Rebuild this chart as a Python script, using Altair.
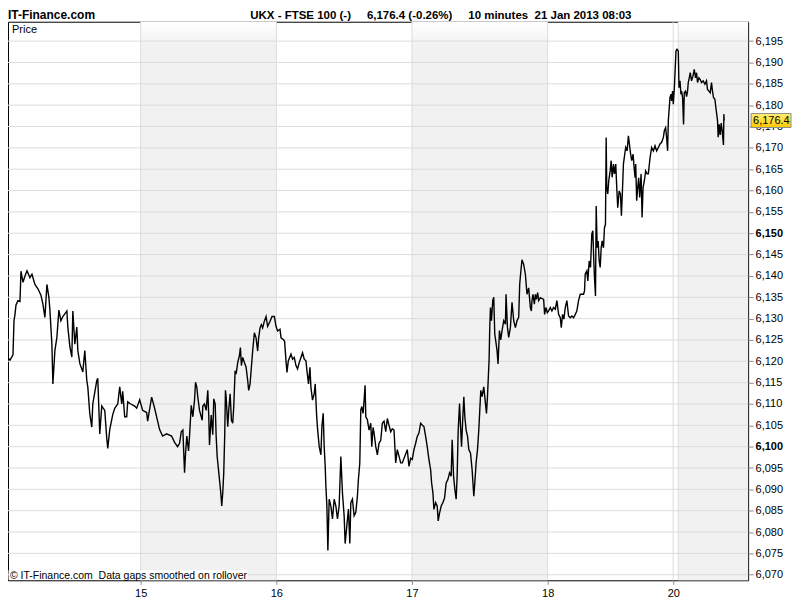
import altair as alt
import pandas as pd

# ---------------- data ----------------
# position in trading days from the first session start (15 = 1, 16 = 2, ...)
DAY_POS = [
    0.0000, 0.0074, 0.0147, 0.0368, 0.0588, 0.0662, 0.0735, 0.0809, 0.0956, 0.1103,
    0.1176, 0.1324, 0.1471, 0.1618, 0.1838, 0.1985, 0.2206, 0.2426, 0.2647, 0.2794,
    0.2941, 0.3088, 0.3235, 0.3309, 0.3456, 0.3529, 0.3676, 0.3824, 0.3971, 0.4118,
    0.4265, 0.4559, 0.4632, 0.4779, 0.4926, 0.5000, 0.5147, 0.5294, 0.5368, 0.5515,
    0.5735, 0.5882, 0.6029, 0.6103, 0.6250, 0.6397, 0.6471, 0.6765, 0.6838, 0.6985,
    0.7132, 0.7353, 0.7500, 0.7574, 0.7721, 0.7941, 0.8088, 0.8309, 0.8456, 0.8603,
    0.8676, 0.8824, 0.8971, 0.9044, 0.9265, 0.9559, 0.9706, 0.9926, 1.0147, 1.0441,
    1.0515, 1.0809, 1.1029, 1.1250, 1.1397, 1.1618, 1.1912, 1.2279, 1.2500, 1.2721,
    1.2868, 1.2993, 1.3110, 1.3235, 1.3309, 1.3404, 1.3529, 1.3603, 1.3728, 1.3846,
    1.3971, 1.4044, 1.4140, 1.4213, 1.4338, 1.4537, 1.4581, 1.4706, 1.4831, 1.4949,
    1.5022, 1.5074, 1.5199, 1.5316, 1.5390, 1.5493, 1.5566, 1.5640, 1.5713, 1.5809,
    1.5904, 1.5978, 1.6051, 1.6125, 1.6199, 1.6250, 1.6301, 1.6419, 1.6493, 1.6596,
    1.6691, 1.6787, 1.6860, 1.6963, 1.7037, 1.7154, 1.7279, 1.7353, 1.7426, 1.7522,
    1.7647, 1.7772, 1.7890, 1.7963, 1.8066, 1.8140, 1.8257, 1.8382, 1.8507, 1.8625,
    1.8699, 1.8801, 1.8897, 1.8993, 1.9118, 1.9243, 1.9360, 1.9537, 1.9684, 1.9853,
    1.9978, 2.0096, 2.0272, 2.0346, 2.0515, 2.0610, 2.0713, 2.0787, 2.0882, 2.1081,
    2.1199, 2.1324, 2.1449, 2.1566, 2.1691, 2.1816, 2.1934, 2.2059, 2.2184, 2.2257,
    2.2375, 2.2478, 2.2551, 2.2669, 2.2794, 2.2868, 2.2963, 2.3037, 2.3162, 2.3287,
    2.3360, 2.3456, 2.3529, 2.3603, 2.3654, 2.3728, 2.3801, 2.3897, 2.4022, 2.4140,
    2.4265, 2.4390, 2.4507, 2.4632, 2.4757, 2.4875, 2.5000, 2.5074, 2.5199, 2.5316,
    2.5419, 2.5493, 2.5610, 2.5735, 2.5860, 2.5978, 2.6051, 2.6154, 2.6228, 2.6301,
    2.6397, 2.6471, 2.6544, 2.6596, 2.6713, 2.6838, 2.6963, 2.7037, 2.7132, 2.7206,
    2.7331, 2.7449, 2.7574, 2.7699, 2.7816, 2.7941, 2.8066, 2.8184, 2.8309, 2.8434,
    2.8551, 2.8676, 2.8801, 2.8919, 2.9044, 2.9169, 2.9287, 2.9654, 2.9779, 2.9904,
    3.0022, 3.0147, 3.0272, 3.0390, 3.0515, 3.0640, 3.0757, 3.0882, 3.1007, 3.1125,
    3.1250, 3.1375, 3.1449, 3.1544, 3.1618, 3.1743, 3.1860, 3.1934, 3.2037, 3.2154,
    3.2279, 3.2404, 3.2522, 3.2647, 3.2772, 3.2890, 3.2963, 3.3066, 3.3162, 3.3257,
    3.3331, 3.3404, 3.3507, 3.3581, 3.3654, 3.3750, 3.3824, 3.3897, 3.3993, 3.4096,
    3.4191, 3.4316, 3.4434, 3.4559, 3.4632, 3.4728, 3.4831, 3.4926, 3.5000, 3.5074,
    3.5169, 3.5294, 3.5419, 3.5493, 3.5566, 3.5640, 3.5684, 3.5735, 3.5787, 3.5860,
    3.5956, 3.6029, 3.6103, 3.6176, 3.6272, 3.6346, 3.6449, 3.6544, 3.6640, 3.6765,
    3.6890, 3.6934, 3.7037, 3.7132, 3.7257, 3.7375, 3.7500, 3.7625, 3.7743, 3.7868,
    3.7941, 3.8015, 3.8110, 3.8235, 3.8360, 3.8478, 3.8603, 3.8728, 3.8801, 3.8846,
    3.8919, 3.9022, 3.9096, 3.9169, 3.9265, 3.9338, 3.9463, 3.9706, 3.9779, 3.9875,
    3.9978, 4.0074, 4.0199, 4.0316, 4.0441, 4.0566, 4.0684, 4.0809, 4.0934, 4.1007,
    4.1103, 4.1199, 4.1301, 4.1419, 4.1544, 4.1669, 4.1787, 4.1912, 4.2037, 4.2154,
    4.2279, 4.2404, 4.2522, 4.2647, 4.2721, 4.2772, 4.2890, 4.2963, 4.3066, 4.3162,
    4.3257, 4.3331, 4.3404, 4.3456, 4.3529, 4.3581, 4.3654, 4.3728, 4.3801, 4.3875,
    4.3949, 4.4022, 4.4118, 4.4191, 4.4265, 4.4316, 4.4360, 4.4434, 4.4507, 4.4610,
    4.4684, 4.4757, 4.4853, 4.4926, 4.5022, 4.5096, 4.5169, 4.5272, 4.5368, 4.5441,
    4.5515, 4.5588, 4.5684, 4.5757, 4.5860, 4.5956, 4.6029, 4.6103, 4.6199, 4.6301,
    4.6375, 4.6449, 4.6493, 4.6566, 4.6640, 4.6713, 4.6787, 4.6890, 4.6963, 4.7037,
    4.7132, 4.7228, 4.7331, 4.7426, 4.7551, 4.7669, 4.7794, 4.7919, 4.8037, 4.8162,
    4.8287, 4.8404, 4.8529, 4.8603, 4.8699, 4.8772, 4.8846, 4.8897, 4.8949, 4.9022,
    4.9096, 4.9140, 4.9213, 4.9265, 4.9338, 4.9463, 4.9537, 4.9632, 4.9684, 4.9757,
    4.9831, 4.9875, 4.9949, 5.0022, 5.0074, 5.0169, 5.0243, 5.0316, 5.0368, 5.0441,
    5.0515, 5.0610, 5.0713, 5.0809, 5.0904, 5.0978, 5.1051, 5.1154, 5.1250, 5.1346,
    5.1471, 5.1596, 5.1713, 5.1787, 5.1890, 5.1985, 5.2081, 5.2154, 5.2228, 5.2331,
    5.2404, 5.2522, 5.2574, 5.2647, 5.2721, 5.2794, 5.2868, 5.2963, 5.2993, 5.3015,
]

PRICE = [
    6115.9, 6118.2, 6121.0, 6120.3, 6121.5, 6129.5, 6131.0, 6133.2, 6134.2, 6134.0,
    6141.1, 6138.5, 6140.0, 6141.2, 6139.6, 6140.4, 6138.0, 6137.0, 6135.5, 6133.4,
    6130.3, 6138.0, 6135.0, 6132.0, 6124.0, 6114.7, 6122.5, 6125.6, 6132.0, 6129.5,
    6130.5, 6131.8, 6128.0, 6123.5, 6121.0, 6131.8, 6124.0, 6128.0, 6122.5, 6119.5,
    6117.5, 6122.5, 6115.5, 6114.0, 6107.7, 6104.6, 6110.0, 6115.5, 6116.0, 6103.0,
    6109.5, 6108.5, 6102.0, 6099.6, 6104.0, 6107.5, 6109.0, 6110.0, 6114.0, 6110.0,
    6113.0, 6107.0, 6107.0, 6110.5, 6110.0, 6109.5, 6109.0, 6111.0, 6108.5, 6108.0,
    6106.0, 6111.6, 6109.0, 6106.0, 6104.0, 6102.5, 6103.0, 6102.5, 6101.0, 6100.0,
    6100.8, 6103.5, 6103.9, 6093.9, 6098.5, 6102.5, 6099.0, 6102.5, 6109.7, 6107.0,
    6110.9, 6115.1, 6113.9, 6111.6, 6108.5, 6106.2, 6109.5, 6110.0, 6108.5, 6113.2,
    6107.0, 6100.4, 6107.4, 6102.8, 6111.2, 6110.0, 6102.4, 6097.7, 6095.4, 6092.3,
    6089.2, 6086.1, 6089.2, 6093.9, 6103.1, 6113.2, 6111.6, 6104.7, 6108.5, 6112.4,
    6106.2, 6105.5, 6109.3, 6117.8, 6117.0, 6119.7, 6121.3, 6123.2, 6119.0, 6120.9,
    6119.7, 6118.6, 6115.5, 6113.2, 6114.7, 6117.8, 6122.4, 6126.7, 6125.5, 6122.4,
    6125.5, 6127.8, 6128.6, 6127.8, 6129.4, 6130.5, 6128.2, 6129.4, 6130.5, 6130.5,
    6128.2, 6127.1, 6127.5, 6125.5, 6125.1, 6124.7, 6120.1, 6117.4, 6120.1, 6121.7,
    6120.5, 6120.9, 6119.0, 6118.2, 6119.7, 6120.9, 6122.0, 6120.5, 6120.1, 6117.8,
    6114.7, 6118.6, 6113.9, 6110.9, 6112.4, 6114.7, 6107.8, 6104.3, 6100.0, 6098.1,
    6104.7, 6107.8, 6100.0, 6095.4, 6090.8, 6086.1, 6075.7, 6087.7, 6086.1, 6083.1,
    6087.7, 6086.1, 6083.1, 6086.1, 6097.7, 6089.2, 6083.8, 6077.3, 6081.5, 6085.4,
    6077.3, 6086.9, 6087.7, 6083.8, 6084.6, 6088.4, 6092.3, 6096.2, 6108.6, 6109.4,
    6107.8, 6110.9, 6114.4, 6107.0, 6106.3, 6103.9, 6105.5, 6100.0, 6104.5, 6103.2,
    6100.0, 6098.1, 6100.8, 6101.5, 6105.5, 6106.0, 6103.5, 6106.6, 6105.0, 6103.5,
    6104.2, 6103.9, 6096.2, 6099.3, 6097.8, 6096.2, 6096.2, 6099.3, 6095.4, 6097.3,
    6097.0, 6099.3, 6100.8, 6102.4, 6103.2, 6105.5, 6105.1, 6104.7, 6102.4, 6100.0,
    6097.0, 6094.6, 6091.5, 6089.2, 6085.3, 6086.9, 6086.1, 6082.6, 6084.5, 6086.1,
    6086.9, 6088.0, 6091.5, 6092.3, 6093.9, 6093.1, 6101.6, 6093.1, 6090.0, 6087.7,
    6093.1, 6103.5, 6110.1, 6104.7, 6100.0, 6107.0, 6111.7, 6107.0, 6103.9, 6102.4,
    6099.3, 6098.5, 6094.6, 6088.4, 6091.5, 6096.2, 6099.3, 6103.9, 6108.6, 6113.2,
    6111.7, 6114.0, 6110.1, 6107.8, 6111.7, 6117.1, 6120.2, 6128.0, 6132.6, 6129.5,
    6134.2, 6135.0, 6126.4, 6124.8, 6122.5, 6119.4, 6127.2, 6125.0, 6127.2, 6129.5,
    6128.7, 6135.7, 6128.0, 6125.6, 6128.0, 6133.8, 6129.5, 6127.9, 6129.5, 6130.3,
    6138.0, 6140.7, 6143.8, 6142.7, 6140.4, 6135.7, 6137.2, 6132.6, 6131.8, 6134.2,
    6135.7, 6133.4, 6135.7, 6134.5, 6136.1, 6134.2, 6134.9, 6134.5, 6131.0, 6132.6,
    6131.4, 6131.8, 6132.6, 6131.8, 6132.6, 6132.2, 6134.2, 6131.0, 6130.2, 6127.9,
    6131.0, 6129.9, 6132.6, 6134.2, 6130.6, 6130.2, 6130.6, 6130.2, 6131.0, 6131.8,
    6134.2, 6135.7, 6135.7, 6135.7, 6136.5, 6140.4, 6141.2, 6138.8, 6143.5, 6142.0,
    6149.8, 6150.6, 6143.5, 6139.6, 6135.3, 6156.4, 6146.6, 6148.2, 6143.5, 6142.0,
    6146.6, 6148.2, 6146.6, 6151.3, 6152.1, 6172.4, 6160.7, 6159.2, 6162.3, 6164.6,
    6167.0, 6163.1, 6166.2, 6163.9, 6166.2, 6160.7, 6156.0, 6159.9, 6159.2, 6154.1,
    6159.9, 6166.2, 6168.5, 6170.1, 6169.3, 6172.8, 6170.9, 6168.9, 6167.0, 6168.5,
    6165.4, 6163.0, 6166.2, 6157.6, 6160.7, 6163.0, 6158.4, 6163.9, 6153.7, 6160.7,
    6162.3, 6164.6, 6163.9, 6163.9, 6167.7, 6170.1, 6169.3, 6170.5, 6169.3, 6170.1,
    6170.9, 6171.3, 6172.4, 6174.0, 6174.7, 6172.4, 6169.3, 6176.3, 6178.6, 6181.8,
    6182.6, 6181.0, 6183.3, 6180.2, 6183.7, 6192.7, 6193.1, 6192.7, 6184.1, 6185.7,
    6182.5, 6183.3, 6181.8, 6175.5, 6182.9, 6183.3, 6182.0, 6183.3, 6185.3, 6186.4,
    6187.6, 6185.7, 6186.8, 6188.4, 6186.4, 6187.6, 6185.3, 6186.4, 6186.0, 6185.3,
    6185.7, 6184.9, 6185.7, 6183.7, 6183.3, 6182.9, 6185.3, 6183.3, 6181.8, 6181.4,
    6179.4, 6176.5, 6172.5, 6175.5, 6173.0, 6175.8, 6174.0, 6170.7, 6177.9, 6176.4,
]

TICK_POS = [1, 2, 3, 4, 4.926]
TICK_LABELS = ["15", "16", "17", "18", "20"]
BAND_START = [1, 3, 4.963]
BAND_END = [2, 4, 5.478]
VGRID = [1, 2, 3, 4, 4.926, 4.963]
Y_TICKS = list(range(6070, 6200, 5))
BOLD_TICKS = [6100, 6150]
LAST_PRICE = [PRICE[-1]]

SITE = "IT-Finance.com"
NB = "\u00a0"
HEADER = ("UKX - FTSE 100 (-)" + NB * 5 + "6,176.4 (-0.26%)" + NB * 5
          + "10 minutes" + NB * 2 + "21 Jan 2013 08:03")
FOOTER = "\u00a9 IT-Finance.com" + NB * 2 + "Data gaps smoothed on rollover"
PANEL = "Price"

# ---------------- layout ----------------
W, H = 742, 560
X_DOMAIN = [0.022, 5.478]
Y_DOMAIN = [6068.7, 6199.55]
FONT = "Liberation Sans"

xs = alt.Scale(domain=X_DOMAIN, nice=False, zero=False)
ys = alt.Scale(domain=Y_DOMAIN, nice=False, zero=False)

df = pd.DataFrame({"d": DAY_POS, "p": PRICE})

band_grad = {
    "gradient": "linear", "x1": 0, "y1": 0, "x2": 0, "y2": 1,
    "stops": [
        {"offset": 0, "color": "#ffffff"},
        {"offset": 0.045, "color": "#f1f1f1"},
        {"offset": 1, "color": "#f1f1f1"},
    ],
}
box_grad = {
    "gradient": "linear", "x1": 0, "y1": 0, "x2": 0, "y2": 1,
    "stops": [
        {"offset": 0, "color": "#fff176"},
        {"offset": 1, "color": "#ffc800"},
    ],
}

label_expr = "{}[indexof({}, datum.value)]".format(
    "[" + ",".join("'%s'" % l for l in TICK_LABELS) + "]",
    "[" + ",".join(str(p) for p in TICK_POS) + "]",
)
bold_test = "indexof([{}], datum.value) >= 0".format(",".join(str(b) for b in BOLD_TICKS))

x_axis = alt.Axis(
    values=TICK_POS, labelExpr=label_expr, title=None, grid=False, domain=False,
    tickSize=4, tickColor="#8a8a8a", labelFont=FONT, labelFontSize=11,
    labelColor="black", labelPadding=3, labelFlush=False, labelOverlap=False,
)
y_axis = alt.Axis(
    orient="right", values=Y_TICKS, format=",", title=None, grid=False,
    domain=False, tickSize=5, tickColor="#8a8a8a", labelFont=FONT,
    labelFontSize=11, labelColor="black", labelPadding=2, labelFlush=False,
    labelOverlap=False,
    labelFontWeight={"condition": {"test": bold_test, "value": "bold"}, "value": "normal"},
)

bands = alt.Chart(pd.DataFrame({"s": BAND_START, "e": BAND_END})).mark_rect(
    fill=band_grad
).encode(
    x=alt.X("s:Q", scale=xs, axis=x_axis),
    x2="e:Q",
    y=alt.value(0),
    y2=alt.value(H),
)

hgrid = alt.Chart(pd.DataFrame({"v": Y_TICKS})).mark_rule(
    color="#dcdcdc", strokeWidth=1
).encode(y=alt.Y("v:Q", scale=ys, axis=y_axis))

vgrid = alt.Chart(pd.DataFrame({"v": VGRID})).mark_rule(
    color="#dcdcdc", strokeWidth=1
).encode(x=alt.X("v:Q", scale=xs, axis=x_axis))

line = alt.Chart(df).mark_line(color="black", strokeWidth=1.4, clip=True).encode(
    x=alt.X("d:Q", scale=xs, axis=x_axis),
    y=alt.Y("p:Q", scale=ys, axis=y_axis),
)

one = pd.DataFrame({"site": [SITE], "header": [HEADER], "footer": [FOOTER], "panel": [PANEL]})

footer_box = alt.Chart(one).mark_rect(fill="white").encode(
    x=alt.value(0.5), x2=alt.value(240), y=alt.value(H - 10), y2=alt.value(H - 0.5)
)
footer = alt.Chart(one).mark_text(
    align="left", baseline="alphabetic", font=FONT, fontSize=10.5, color="black"
).encode(x=alt.value(2), y=alt.value(H - 1.5), text="footer:N")

panel = alt.Chart(one).mark_text(
    align="left", baseline="alphabetic", font=FONT, fontSize=11, color="black"
).encode(x=alt.value(4), y=alt.value(11), text="panel:N")

site = alt.Chart(one).mark_text(
    align="left", baseline="alphabetic", font=FONT, fontSize=12, fontWeight="bold",
    color="black"
).encode(x=alt.value(0), y=alt.value(-3), text="site:N")

header = alt.Chart(one).mark_text(
    align="center", baseline="alphabetic", font=FONT, fontSize=11.5, fontWeight="bold",
    color="black"
).encode(x=alt.value(434), y=alt.value(-3), text="header:N")

lp = pd.DataFrame({"p": LAST_PRICE})
price_box = alt.Chart(lp).mark_rect(
    fill=box_grad, stroke="#8c8c8c", strokeWidth=1, height=14
).encode(
    x=alt.value(W + 3), x2=alt.value(W + 43),
    y=alt.Y("p:Q", scale=ys, axis=y_axis),
)
price_txt = alt.Chart(lp).mark_text(
    align="left", baseline="middle", font=FONT, fontSize=11, color="black"
).encode(
    x=alt.value(W + 5),
    y=alt.Y("p:Q", scale=ys, axis=y_axis),
    text=alt.Text("p:Q", format=",.1f"),
)

chart = alt.layer(
    bands, hgrid, vgrid, line, footer_box, footer, panel, site, header,
    price_box, price_txt,
).properties(
    width=W, height=H,
    autosize=alt.AutoSizeParams(type="none"),
    padding={"left": 0, "top": 13, "right": 44, "bottom": 19},
    background="white",
).configure_view(stroke="black", strokeWidth=1)

chart.save("out.html", embed_options={"renderer": "svg", "actions": False})
